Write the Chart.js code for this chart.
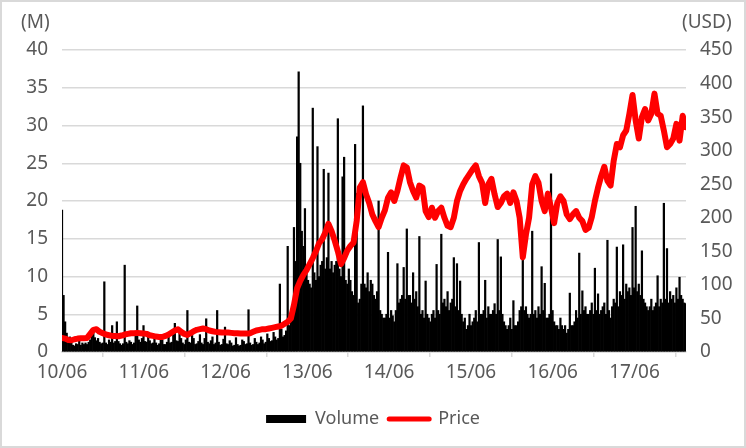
<!DOCTYPE html>
<html>
<head>
<meta charset="utf-8">
<script src="https://cdn.jsdelivr.net/npm/chart.js@4/dist/chart.umd.min.js"></script>
<style>
  html, body { margin: 0; padding: 0; background: #fff; }
  #wrap { position: relative; width: 746px; height: 448px; box-sizing: border-box; border: 2px solid #d9d9d9; }
  #wrap canvas { position: absolute; left: 0; top: 0; }
  .unit { position: absolute; top: 6px; font: 19px "Noto Sans", sans-serif; color: #595959; }
</style>
</head>
<body>
<div id="wrap">
  <canvas id="canvas" width="742" height="444"></canvas>
  <span class="unit" style="left:19px">(M)</span>
  <span class="unit" style="left:680px">(USD)</span>
</div>
<script>
// first trading day; volume is sampled weekly, price every two weeks
var startDate = '2010-06-29';
var volumeStepDays = 7;
var priceStepDays = 14;

// tick labels, one per June (yy/mm)
var yearTicks = ['10/06', '11/06', '12/06', '13/06', '14/06', '15/06', '16/06', '17/06'];

// weekly volume, millions of shares
var volume = [
  18.8, 7.5, 4.0, 2.5, 1.4, 2.0, 1.2, 0.9, 0.8, 1.1, 1.0, 1.5, 0.9, 1.2, 1.0, 1.2, 1.0, 1.3, 1.6, 2.2,
  2.5, 1.9, 1.5, 1.8, 1.3, 1.1, 1.2, 9.3, 1.2, 1.0, 1.6, 1.3, 3.5, 1.2, 1.4, 4.0, 1.4, 1.1, 0.9, 1.1,
  11.5, 1.3, 1.1, 1.5, 1.3, 1.0, 1.2, 2.5, 6.1, 1.6, 1.3, 1.8, 3.5, 1.4, 1.3, 2.2, 1.5, 1.1, 1.2, 2.0,
  1.2, 0.9, 1.1, 2.1, 1.6, 1.0, 1.0, 1.3, 2.0, 1.2, 1.3, 2.4, 3.8, 1.5, 1.4, 2.5, 1.8, 1.2, 1.0, 1.6,
  5.5, 1.3, 1.2, 2.2, 1.8, 1.0, 1.1, 1.4, 2.3, 1.2, 1.0, 1.8, 4.4, 1.3, 1.1, 1.5, 2.0, 1.0, 1.2, 5.5,
  1.3, 0.9, 1.0, 1.7, 3.3, 1.1, 1.0, 1.5, 1.2, 0.8, 0.9, 1.9, 1.0, 0.8, 0.9, 1.6, 1.4, 1.0, 1.1, 5.6,
  1.2, 0.9, 1.0, 1.8, 1.3, 1.0, 1.2, 2.0, 1.6, 1.1, 1.3, 2.4, 1.8, 1.4, 1.5, 2.6, 2.0, 1.6, 1.8, 9.0,
  3.0, 2.0, 2.2, 2.8, 14.0, 3.5, 4.5, 5.5, 16.5, 12.0, 28.5, 37.1, 25.0, 16.0, 14.0, 19.0, 10.5, 9.5, 9.0, 8.5,
  32.3, 10.5, 9.5, 27.2, 10.0, 11.5, 12.0, 24.2, 11.0, 12.5, 23.7, 11.0, 12.0, 10.5, 11.5, 12.0, 30.9, 11.0, 10.0, 23.2,
  25.8, 9.5, 9.0, 11.0, 9.5, 8.0, 7.5, 27.5, 21.0, 6.5, 7.0, 9.0, 32.6, 9.0, 8.5, 10.5, 8.0, 9.5, 9.0, 7.5,
  7.0, 8.0, 20.0, 5.5, 5.0, 4.5, 4.5, 5.0, 13.2, 4.5, 5.5, 4.8, 4.0, 5.5, 11.7, 6.5, 7.0, 7.5, 11.2, 7.0,
  16.3, 7.5, 7.5, 6.5, 10.5, 7.0, 8.0, 6.0, 15.3, 5.0, 5.5, 4.5, 9.4, 5.0, 4.5, 4.0, 5.0, 5.5, 4.5, 11.6,
  5.5, 5.0, 15.6, 6.5, 7.0, 6.0, 8.0, 5.5, 6.5, 7.0, 12.5, 6.0, 11.7, 5.5, 9.4, 5.0, 4.0, 4.5, 3.0, 3.5,
  5.0, 3.5, 4.0, 4.5, 5.5, 4.0, 14.5, 5.0, 5.0, 5.5, 9.5, 4.5, 6.0, 5.0, 5.0, 5.5, 6.4, 5.0, 14.9, 5.5,
  12.6, 5.0, 4.0, 3.5, 3.0, 3.5, 4.5, 3.0, 6.8, 3.5, 3.5, 4.0, 5.5, 6.0, 12.5, 5.5, 6.0, 5.0, 4.5, 5.0,
  16.0, 5.0, 5.5, 4.5, 6.0, 5.0, 11.3, 5.5, 9.1, 4.5, 4.5, 5.0, 23.6, 5.5, 4.0, 3.5, 3.5, 3.0, 4.5, 3.5,
  3.0, 3.5, 2.5, 3.0, 7.8, 3.5, 3.5, 4.0, 5.5, 4.5, 13.1, 5.0, 8.1, 5.5, 6.0, 5.0, 5.0, 5.5, 6.5, 5.0,
  11.1, 5.5, 7.7, 5.0, 5.5, 6.0, 6.5, 5.0, 14.8, 5.5, 4.5, 6.0, 7.0, 6.5, 13.9, 6.0, 8.0, 7.5, 14.2, 7.0,
  9.0, 8.0, 8.5, 7.5, 16.5, 8.5, 19.3, 8.0, 9.0, 7.5, 13.4, 7.0, 6.5, 6.0, 5.5, 6.0, 7.0, 5.5, 6.0, 6.5,
  10.1, 6.0, 7.0, 6.5, 19.7, 7.0, 13.7, 6.5, 8.0, 7.0, 7.5, 6.5, 8.5, 7.0, 9.9, 7.5, 7.0, 6.5, 6.4
];

// closing price every two weeks, USD
var price = [
  21, 20, 18, 17.5, 19, 20, 20.5, 20.5, 21, 27,
  33, 34, 30, 28, 26, 25, 24, 24, 23.5, 24.5,
  26, 27, 28, 28, 28.5, 28, 27.5, 27, 25, 24,
  23, 22.5, 22.4, 24, 26, 29, 32, 34, 30, 27,
  25.5, 28, 31, 33, 34, 35, 34, 32, 31, 30,
  29.5, 29, 28.9, 29, 28.5, 28, 28, 27.5, 27.4, 27.4,
  28, 30, 32, 33, 34, 34, 35, 36, 37, 38,
  39, 42, 45, 50, 70, 95, 106, 115, 122, 131,
  140, 150, 162, 168, 178, 191, 180, 166, 150, 131,
  140, 151, 158, 163, 195, 245, 253, 235, 222, 205,
  195, 186, 200, 211, 230, 238, 225, 240, 260, 278,
  275, 253, 240, 230, 248, 245, 210, 201, 215, 200,
  210, 215, 200, 188, 186, 200, 225, 240, 250, 258,
  265, 272, 278, 262, 252, 222, 250, 258, 235, 216,
  222, 232, 236, 222, 238, 225, 200, 141, 175, 200,
  250, 262, 252, 225, 210, 236, 215, 192, 222, 232,
  225, 205, 198, 205, 210, 200, 195, 182, 185, 201,
  225, 245, 262, 276, 255, 248, 285, 310, 305, 323,
  330, 355, 383, 345, 318, 350, 362, 345, 355, 385,
  355, 352, 330, 305, 310, 318, 340, 315, 352, 335
];

// position of a sample on the x axis, in years after the start date
var DAY = 86400000;
function yearsAt(i, stepDays) {
  var t0 = new Date(startDate).getTime();
  return (t0 + i * stepDays * DAY - t0) / (365.25 * DAY);
}

var textColor = '#595959';
var gridColor = '#d9d9d9';
var font = { family: '"Noto Sans", sans-serif', size: 19 };

var config = {
  type: 'bar',
  data: {
    datasets: [{
      type: 'bar',
      label: 'Volume',
      data: volume.map(function(v, i) { return { x: yearsAt(i, volumeStepDays), y: v }; }),
      backgroundColor: '#000000',
      borderWidth: 0,
      barPercentage: 1,
      categoryPercentage: 1,
      yAxisID: 'y',
      order: 1
    }, {
      type: 'line',
      label: 'Price',
      data: price.map(function(v, i) { return { x: yearsAt(i, priceStepDays), y: v }; }),
      borderColor: '#ff0000',
      backgroundColor: '#ff0000',
      borderWidth: 6,
      borderCapStyle: 'round',
      borderJoinStyle: 'round',
      pointRadius: 0,
      tension: 0,
      yAxisID: 'y1',
      order: 0
    }]
  },
  options: {
    responsive: false,
    animation: false,
    layout: { padding: { left: 0, right: 0, top: 48, bottom: 8 } },
    plugins: {
      tooltip: { enabled: false },
      legend: {
        position: 'bottom',
        labels: {
          color: textColor,
          font: { family: '"Noto Sans", sans-serif', size: 18 },
          usePointStyle: true,
          pointStyleWidth: 40,
          boxHeight: 8,
          padding: 10,
          generateLabels: function(chart) {
            return chart.data.datasets.map(function(ds, i) {
              return {
                text: ds.label,
                fillStyle: ds.backgroundColor,
                strokeStyle: ds.type === 'line' ? ds.borderColor : ds.backgroundColor,
                lineWidth: ds.type === 'line' ? 5 : 0,
                lineCap: 'round',
                pointStyle: ds.type === 'line' ? 'line' : 'rect',
                fontColor: textColor,
                datasetIndex: i
              };
            });
          }
        }
      }
    },
    scales: {
      x: {
        type: 'linear',
        offset: false,
        min: 0,
        max: 7.63,
        afterBuildTicks: function(axis) {
          axis.ticks = yearTicks.map(function(s, i) { return { value: i }; });
        },
        afterFit: function(axis) { axis.height = 48; },
        ticks: {
          color: textColor,
          font: font,
          padding: 4,
          maxRotation: 0,
          autoSkip: false,
          callback: function(v) { return yearTicks[v]; }
        },
        grid: { drawOnChartArea: false, drawTicks: true, tickLength: 5, color: gridColor, lineWidth: 1.5 },
        border: { display: true, color: gridColor, width: 1.5 }
      },
      y: {
        position: 'left',
        min: 0,
        max: 40,
        afterFit: function(axis) { axis.width = 60; },
        ticks: { stepSize: 5, color: textColor, font: font, padding: 14 },
        grid: { color: gridColor, lineWidth: 1.5, drawTicks: false },
        border: { display: false }
      },
      y1: {
        position: 'right',
        min: 0,
        max: 450,
        afterFit: function(axis) { axis.width = 58; },
        ticks: { stepSize: 50, color: textColor, font: font, padding: 14 },
        grid: { display: false, drawTicks: false },
        border: { display: false }
      }
    }
  }
};

window.onload = function() {
  window.myChart = new Chart(document.getElementById('canvas'), config);
};
</script>
</body>
</html>
